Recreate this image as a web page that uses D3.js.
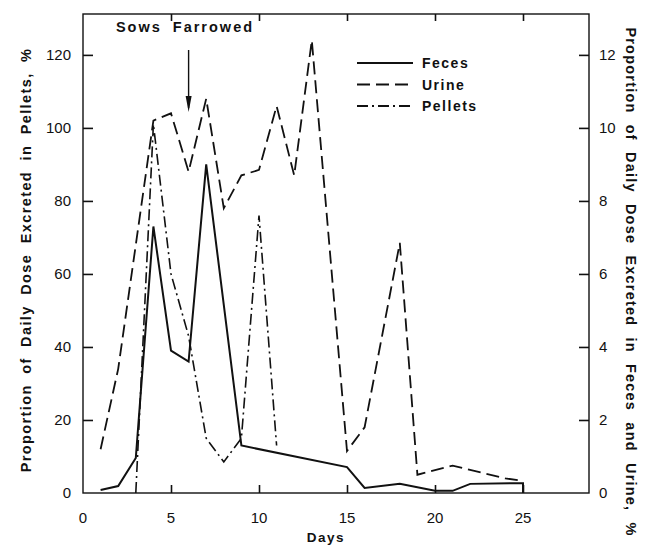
<!DOCTYPE html>
<html>
<head>
<meta charset="utf-8">
<script src="https://cdn.jsdelivr.net/npm/d3@7"></script>
<style>
  body { margin: 0; background: #fff; }
  svg { display: block; }
  text { font-family: "Liberation Sans", Arial, sans-serif; fill: #111; }
  .line { fill: none; stroke: #111; }
</style>
</head>
<body>
<svg width="649" height="547"></svg>
<script>
// days and values
const fecesDays = [1, 2, 3, 4, 5, 6, 7, 9, 15, 16, 18, 20, 21, 22, 25];
const fecesVals = [0.08, 0.19, 0.96, 7.3, 3.9, 3.6, 9.0, 1.3, 0.71, 0.14, 0.25, 0.06, 0.06, 0.25, 0.27];

const urineDays = [1, 2, 3, 4, 5, 6, 7, 8, 9, 10, 11, 12, 13, 15, 16, 18, 19, 21, 24, 25];
const urineVals = [1.2, 3.4, 6.8, 10.2, 10.4, 8.8, 10.8, 7.8, 8.7, 8.85, 10.6, 8.7, 12.4, 1.15, 1.8, 6.85, 0.5, 0.75, 0.4, 0.33];

const pelletDays = [3, 4, 5, 6, 7, 8, 9, 10, 11];
const pelletVals = [0, 101, 60, 43, 15, 8.5, 15, 76, 13];

const xTicks = [0, 5, 10, 15, 20, 25];
const leftTicks = [0, 20, 40, 60, 80, 100, 120];
const rightTicks = [0, 2, 4, 6, 8, 10, 12];

const legendNames = ["Feces", "Urine", "Pellets"];

const svg = d3.select("svg");
const m = { left: 83, right: 589, top: 14, bottom: 493 };

const x = d3.scaleLinear().domain([0, 28.75]).range([m.left, m.right]);
const yL = d3.scaleLinear().domain([0, 131.2]).range([m.bottom, m.top]);
const yR = d3.scaleLinear().domain([0, 13.12]).range([m.bottom, m.top]);

const dashes = { Feces: null, Urine: "13,6", Pellets: "11,4,2,4" };

// frame
svg.append("rect")
  .attr("x", m.left).attr("y", m.top)
  .attr("width", m.right - m.left).attr("height", m.bottom - m.top)
  .attr("fill", "none").attr("stroke", "#111").attr("stroke-width", 1.4);

// ticks
svg.append("g").attr("transform", `translate(0,${m.bottom})`)
  .call(d3.axisBottom(x).tickValues(xTicks.slice(1)).tickSizeInner(-8).tickSizeOuter(0).tickFormat(""))
  .call(g => g.select(".domain").remove());
svg.append("g").attr("transform", `translate(0,${m.top})`)
  .call(d3.axisTop(x).tickValues(xTicks.slice(1)).tickSizeInner(-7).tickSizeOuter(0).tickFormat(""))
  .call(g => g.select(".domain").remove());
svg.append("g").attr("transform", `translate(${m.left},0)`)
  .call(d3.axisLeft(yL).tickValues(leftTicks.slice(1)).tickSizeInner(-10).tickSizeOuter(0).tickFormat(""))
  .call(g => g.select(".domain").remove());
svg.append("g").attr("transform", `translate(${m.right},0)`)
  .call(d3.axisRight(yR).tickValues(rightTicks.slice(1)).tickSizeInner(-10).tickSizeOuter(0).tickFormat(""))
  .call(g => g.select(".domain").remove());
svg.selectAll(".tick line").attr("stroke", "#111").attr("stroke-width", 1.6);

// tick labels
svg.append("g").selectAll("text").data(xTicks).join("text")
  .attr("x", d => x(d)).attr("y", m.bottom + 30)
  .attr("text-anchor", "middle").attr("font-size", 15)
  .text(d => d);
svg.append("g").selectAll("text").data(leftTicks).join("text")
  .attr("x", m.left - 12).attr("y", d => yL(d) + 5)
  .attr("text-anchor", "end").attr("font-size", 15)
  .text(d => d);
svg.append("g").selectAll("text").data(rightTicks).join("text")
  .attr("x", m.right + 10).attr("y", d => yR(d) + 5)
  .attr("text-anchor", "start").attr("font-size", 15)
  .text(d => d);

// axis titles
svg.append("text")
  .attr("x", 326).attr("y", 542)
  .attr("text-anchor", "middle").attr("font-size", 13.5).attr("font-weight", "bold")
  .attr("letter-spacing", 1.5)
  .text("Days");
svg.append("text")
  .attr("transform", `translate(31,260) rotate(-90)`)
  .attr("text-anchor", "middle").attr("font-size", 14.5).attr("font-weight", "bold")
  .attr("letter-spacing", 1.4).attr("word-spacing", 5)
  .text("Proportion of Daily Dose Excreted in Pellets, %");
svg.append("text")
  .attr("transform", `translate(626,282) rotate(90)`)
  .attr("text-anchor", "middle").attr("font-size", 14.5).attr("font-weight", "bold")
  .attr("letter-spacing", 1.2).attr("word-spacing", 6)
  .text("Proportion of Daily Dose Excreted in Feces and Urine, %");

// series
const lineR = d3.line().x(d => x(d[0])).y(d => yR(d[1]));
const lineL = d3.line().x(d => x(d[0])).y(d => yL(d[1]));

svg.append("path").attr("class", "line")
  .attr("d", lineR(d3.zip(fecesDays, fecesVals).concat([[25, 0]])))
  .attr("stroke-width", 2);
svg.append("path").attr("class", "line")
  .attr("d", lineR(d3.zip(urineDays, urineVals)))
  .attr("stroke-width", 1.8).attr("stroke-dasharray", dashes.Urine);
svg.append("path").attr("class", "line")
  .attr("d", lineL(d3.zip(pelletDays, pelletVals)))
  .attr("stroke-width", 1.6).attr("stroke-dasharray", dashes.Pellets);

// annotation
svg.append("text")
  .attr("x", 185).attr("y", 32)
  .attr("text-anchor", "middle").attr("font-size", 14.5).attr("font-weight", "bold")
  .attr("letter-spacing", 2).attr("word-spacing", 5)
  .text("Sows Farrowed");
svg.append("line")
  .attr("x1", x(6)).attr("x2", x(6)).attr("y1", 50).attr("y2", 108)
  .attr("stroke", "#111").attr("stroke-width", 1.4);
svg.append("path")
  .attr("d", `M${x(6) - 3},${96} L${x(6)},${112} L${x(6) + 3},${96} Z`)
  .attr("fill", "#111");

// legend
const leg = svg.append("g").selectAll("g").data(legendNames).join("g")
  .attr("transform", (d, i) => `translate(357,${63 + i * 21.5})`);
leg.append("line")
  .attr("x1", 0).attr("x2", 56)
  .attr("stroke", "#111").attr("stroke-width", 1.8)
  .attr("stroke-dasharray", d => dashes[d]);
leg.append("text")
  .attr("x", 65).attr("y", 5)
  .attr("font-size", 14).attr("font-weight", "bold").attr("letter-spacing", 1.5)
  .text(d => d);
</script>
</body>
</html>
